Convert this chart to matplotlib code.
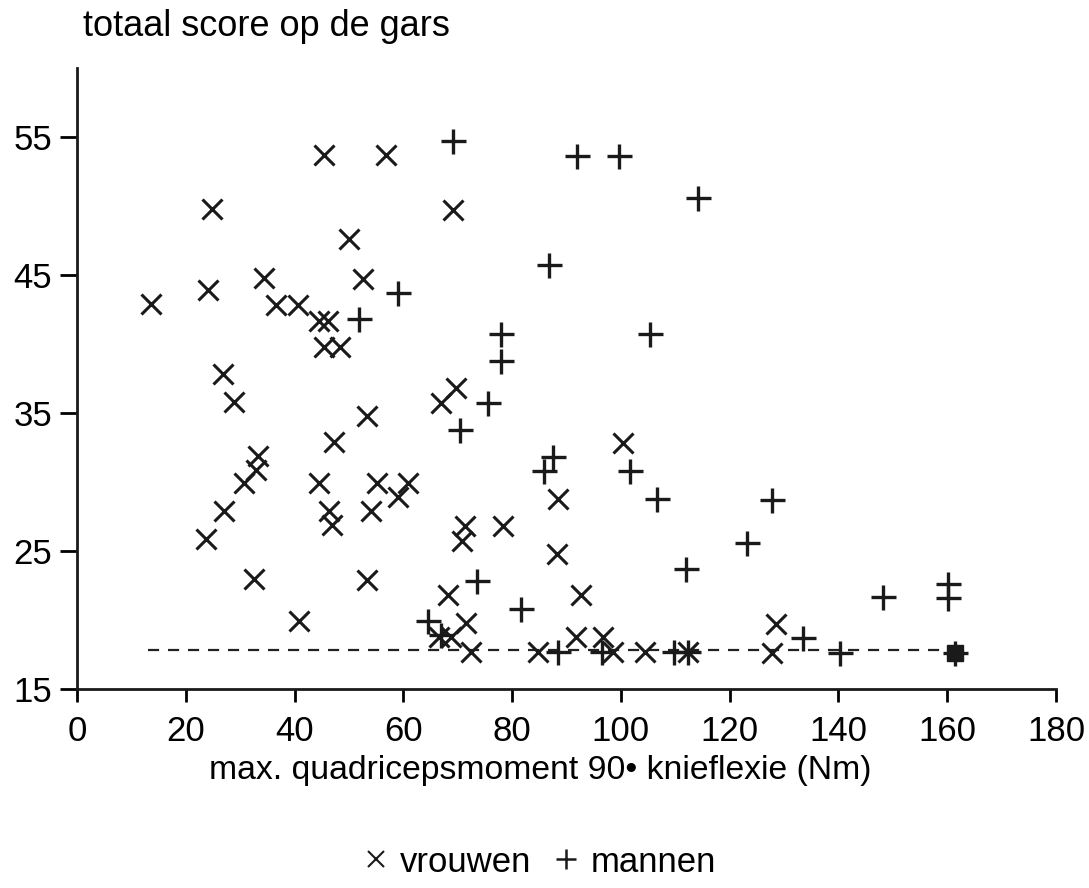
import numpy as np
import matplotlib
matplotlib.use('Agg')
import matplotlib.pyplot as plt
from matplotlib.lines import Line2D

plt.rcParams['font.family'] = ['Liberation Sans', 'DejaVu Sans']

# vrouwen (x)
vrouwen_x = [13.6, 24.8, 24.1, 23.7, 26.8, 27.0, 28.8, 34.3, 36.6, 40.6,
             30.7, 33.2, 32.9, 32.5, 40.8, 45.4, 56.8, 50.0, 52.5, 44.5,
             46.1, 45.4, 48.3, 47.2, 44.5, 46.3, 46.8, 53.3, 54.0, 55.1,
             53.3, 59.0, 60.8, 66.9, 69.6, 69.1, 71.3, 70.7, 68.3, 71.5,
             66.5, 68.7, 72.4, 78.3, 88.5, 88.2, 92.6, 100.3, 84.7, 91.7,
             96.8, 98.6, 104.5, 112.4, 128.6, 127.8]
vrouwen_y = [42.9, 49.8, 43.9, 25.9, 37.8, 27.9, 35.8, 44.8, 42.8, 42.8,
             29.9, 31.9, 30.9, 23.0, 19.9, 53.7, 53.7, 47.6, 44.7, 41.7,
             41.7, 39.8, 39.8, 32.9, 29.9, 27.9, 26.9, 34.8, 27.9, 29.9,
             22.9, 28.9, 29.9, 35.7, 36.8, 49.7, 26.8, 25.7, 21.8, 19.8,
             18.8, 18.8, 17.7, 26.8, 28.8, 24.8, 21.8, 32.8, 17.7, 18.8,
             18.8, 17.7, 17.7, 17.7, 19.7, 17.6]

# mannen (+)
mannen_x = [69.2, 92.0, 99.7, 114.1, 86.7, 59.1, 51.8, 77.9, 105.4, 77.9,
            75.5, 70.5, 87.6, 85.8, 101.6, 106.7, 127.8, 123.2, 112.0, 73.5,
            81.6, 64.5, 66.9, 148.2, 160.2, 160.2, 133.5, 88.5, 96.6, 109.7,
            112.4, 140.3, 161.5]
mannen_y = [54.7, 53.6, 53.6, 50.6, 45.7, 43.7, 41.8, 40.7, 40.7, 38.8,
            35.7, 33.8, 31.8, 30.8, 30.8, 28.8, 28.7, 25.6, 23.7, 22.8,
            20.8, 19.9, 18.9, 21.7, 22.6, 21.6, 18.7, 17.7, 17.7, 17.7,
            17.7, 17.6, 17.6]

# samengevallen punten bij maximum
cluster_x = [161.5]
cluster_y = [17.6]

# minimum score lijn
floor_x = [13, 161]
floor_y = [17.8, 17.8]

fig = plt.figure(figsize=(10.89, 8.88), dpi=100)
ax = fig.add_axes([0.0707, 0.2241, 0.8990, 0.6993])

ax.plot(floor_x, floor_y, ls=(0, (5, 4)), color='#222222', lw=1.6, zorder=1)
ax.plot(vrouwen_x, vrouwen_y, 'x', ms=15, mew=2.2, color='#1a1a1a', zorder=2)
ax.plot(mannen_x, mannen_y, '+', ms=18, mew=2.4, color='#1a1a1a', zorder=2)
ax.plot(cluster_x, cluster_y, 's', ms=12, color='#1a1a1a', zorder=3)

ax.set_xlim(0, 180)
ax.set_ylim(15, 60)
ax.set_xticks(np.arange(0, 181, 20))
ax.set_yticks([15, 25, 35, 45, 55])

for s in ['top', 'right']:
    ax.spines[s].set_visible(False)
for s in ['left', 'bottom']:
    ax.spines[s].set_linewidth(2)
    ax.spines[s].set_color('#1a1a1a')

ax.tick_params(axis='y', length=12, width=2, labelsize=25, pad=6)
ax.tick_params(axis='x', length=9, width=2, labelsize=25, pad=10)

fig.text(83 / 1089, 1 - 27 / 888, 'totaal score op de gars', fontsize=26,
         va='center', ha='left')
fig.text(540 / 1089, 1 - 770 / 888, 'max. quadricepsmoment 90\u2022 knieflexie (Nm)',
         fontsize=24.3, va='center', ha='center')

handles = [Line2D([], [], ls='none', marker='x', ms=11, mew=1.5, color='#1a1a1a'),
           Line2D([], [], ls='none', marker='+', ms=15, mew=1.8, color='#1a1a1a')]
fig.legend(handles, ['vrouwen', 'mannen'], loc='center',
           bbox_to_anchor=(539 / 1089, 1 - 862 / 888), ncol=2, frameon=False,
           fontsize=25, handlelength=0.8, handletextpad=0.3, columnspacing=0.6)

fig.savefig('out.png', dpi=100)
